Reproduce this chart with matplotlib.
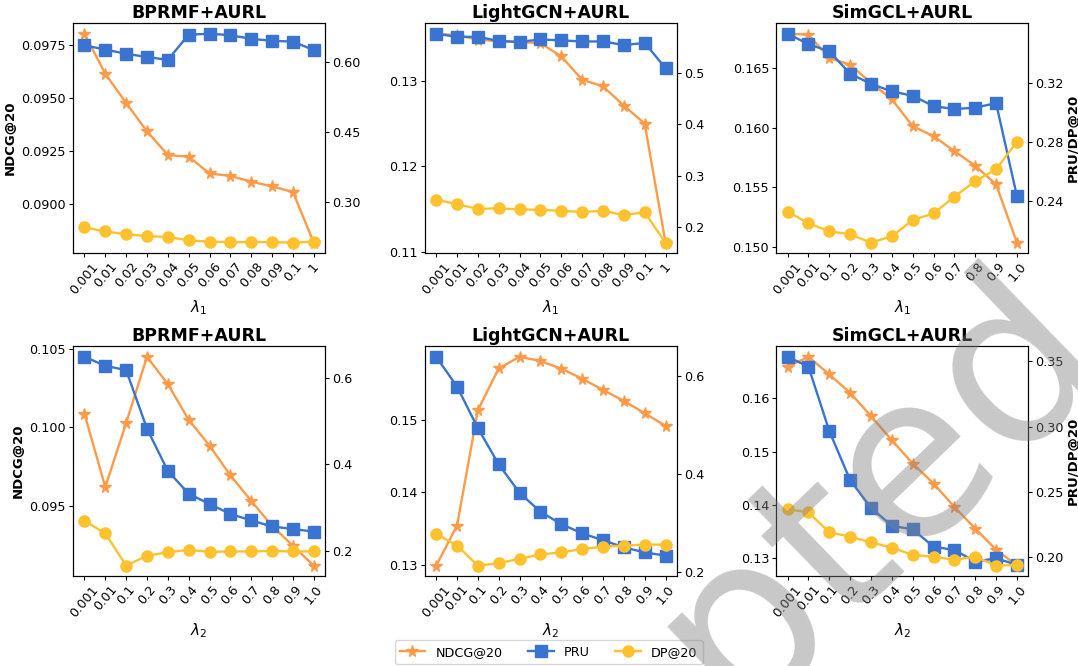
import numpy as np
import matplotlib
matplotlib.use('Agg')
import matplotlib.pyplot as plt
from matplotlib.ticker import FixedLocator, FormatStrFormatter

plt.rcParams['font.family'] = 'DejaVu Sans'

# x tick labels
lam1_labels = ['0.001', '0.01', '0.02', '0.03', '0.04', '0.05', '0.06', '0.07', '0.08', '0.09', '0.1', '1']
lam_sim_labels = ['0.001', '0.01', '0.1', '0.2', '0.3', '0.4', '0.5', '0.6', '0.7', '0.8', '0.9', '1.0']

# ---- lambda_1 sweeps ----
bprmf_l1_ndcg = [0.09805, 0.09616, 0.09478, 0.09344, 0.09232, 0.09224, 0.09145, 0.09133, 0.09106, 0.09084, 0.09057, 0.08818]
bprmf_l1_pru = [0.636, 0.627, 0.618, 0.611, 0.605, 0.659, 0.661, 0.658, 0.650, 0.646, 0.644, 0.626]
bprmf_l1_dp = [0.245, 0.236, 0.230, 0.226, 0.224, 0.217, 0.214, 0.213, 0.213, 0.213, 0.212, 0.214]

lgcn_l1_ndcg = [0.13547, 0.13531, 0.13477, 0.13461, 0.1345, 0.13438, 0.13283, 0.13012, 0.12934, 0.12709, 0.125, 0.11112]
lgcn_l1_pru = [0.577, 0.571, 0.571, 0.563, 0.561, 0.566, 0.564, 0.562, 0.562, 0.555, 0.559, 0.510]
lgcn_l1_dp = [0.253, 0.244, 0.235, 0.236, 0.234, 0.233, 0.231, 0.229, 0.231, 0.223, 0.228, 0.169]

sgcl_l1_ndcg = [0.16783, 0.16775, 0.16581, 0.16525, 0.16372, 0.16236, 0.16011, 0.15928, 0.15803, 0.15681, 0.15525, 0.15039]
sgcl_l1_pru = [0.353, 0.346, 0.341, 0.326, 0.319, 0.314, 0.311, 0.304, 0.302, 0.303, 0.306, 0.243]
sgcl_l1_dp = [0.2326, 0.2247, 0.2193, 0.2172, 0.2116, 0.2159, 0.2269, 0.2314, 0.2427, 0.2533, 0.2612, 0.2799]

# ---- lambda_2 sweeps ----
bprmf_l2_ndcg = [0.10086, 0.09621, 0.10027, 0.10448, 0.10274, 0.10048, 0.09884, 0.09695, 0.09533, 0.09375, 0.09248, 0.09122]
bprmf_l2_pru = [0.650, 0.629, 0.619, 0.483, 0.385, 0.332, 0.308, 0.285, 0.270, 0.256, 0.250, 0.244]
bprmf_l2_dp = [0.269, 0.240, 0.165, 0.188, 0.196, 0.2015, 0.197, 0.198, 0.198, 0.199, 0.198, 0.198]

lgcn_l2_ndcg = [0.12989, 0.13542, 0.1513, 0.15707, 0.15867, 0.15808, 0.15703, 0.15565, 0.1541, 0.15259, 0.15089, 0.14915]
lgcn_l2_pru = [0.639, 0.578, 0.493, 0.419, 0.361, 0.322, 0.297, 0.278, 0.264, 0.2495, 0.239, 0.2325]
lgcn_l2_dp = [0.277, 0.253, 0.212, 0.217, 0.226, 0.235, 0.239, 0.246, 0.251, 0.253, 0.255, 0.255]

sgcl_l2_ndcg = [0.16597, 0.16785, 0.16453, 0.16107, 0.15668, 0.15216, 0.14777, 0.1440, 0.1396, 0.13552, 0.13157, 0.12856]
sgcl_l2_pru = [0.3535, 0.3459, 0.2966, 0.259, 0.2379, 0.2241, 0.2214, 0.2081, 0.2056, 0.1967, 0.1992, 0.1942]
sgcl_l2_dp = [0.2369, 0.2343, 0.2191, 0.2158, 0.2114, 0.2074, 0.2018, 0.2005, 0.198, 0.2005, 0.1936, 0.1942]

c_ndcg = '#FF9A48'
c_pru = '#3A74D0'
c_dp = '#FFC22E'

fig = plt.figure(figsize=(10.78, 6.66), dpi=100)

lefts = [0.0677, 0.394, 0.720]
w, h = 0.234, 0.345
bottoms = [0.620, 0.135]
tick_fs = 9.2


def panel(pos, title, xlabels, xlab, ndcg, pru, dp, lticks, lfmt, rticks, rfmt,
          left_label=False, right_label=False):
    ax = fig.add_axes(pos)
    x = np.arange(len(xlabels))
    l1, = ax.plot(x, ndcg, color=c_ndcg, marker='*', ms=8.5, lw=1.7, label='NDCG@20')
    ax2 = ax.twinx()
    l2, = ax2.plot(x, pru, color=c_pru, marker='s', ms=8, lw=1.7, label='PRU')
    l3, = ax2.plot(x, dp, color=c_dp, marker='o', ms=8, lw=1.7, label='DP@20')
    ax.set_xticks(x)
    ax.set_xticklabels(xlabels, rotation=50, fontsize=tick_fs)
    ax.set_xlabel(xlab, fontsize=11, labelpad=1)
    ax.set_title(title, fontsize=12.5, fontweight='bold', pad=4)
    ax.yaxis.set_major_locator(FixedLocator(lticks))
    ax.yaxis.set_major_formatter(FormatStrFormatter(lfmt))
    ax2.yaxis.set_major_locator(FixedLocator(rticks))
    ax2.yaxis.set_major_formatter(FormatStrFormatter(rfmt))
    ax.tick_params(axis='both', labelsize=tick_fs, length=3, pad=2)
    ax2.tick_params(axis='y', labelsize=tick_fs, length=3, pad=2)
    if left_label:
        ax.set_ylabel('NDCG@20', fontsize=9.5, fontweight='bold', labelpad=3)
    if right_label:
        ax2.set_ylabel('PRU/DP@20', fontsize=9.5, fontweight='bold', labelpad=2)
    return [l1, l2, l3]


handles = panel([lefts[0], bottoms[0], w, h], 'BPRMF+AURL', lam1_labels, r'$\lambda_1$',
                bprmf_l1_ndcg, bprmf_l1_pru, bprmf_l1_dp,
                [0.0900, 0.0925, 0.0950, 0.0975], '%.4f', [0.30, 0.45, 0.60], '%.2f',
                left_label=True)
panel([lefts[1], bottoms[0], w, h], 'LightGCN+AURL', lam1_labels, r'$\lambda_1$',
      lgcn_l1_ndcg, lgcn_l1_pru, lgcn_l1_dp,
      [0.11, 0.12, 0.13], '%.2f', [0.2, 0.3, 0.4, 0.5], '%.1f')
panel([lefts[2], bottoms[0], w, h], 'SimGCL+AURL', lam_sim_labels, r'$\lambda_1$',
      sgcl_l1_ndcg, sgcl_l1_pru, sgcl_l1_dp,
      [0.150, 0.155, 0.160, 0.165], '%.3f', [0.24, 0.28, 0.32], '%.2f',
      right_label=True)

panel([lefts[0], bottoms[1], w, h], 'BPRMF+AURL', lam_sim_labels, r'$\lambda_2$',
      bprmf_l2_ndcg, bprmf_l2_pru, bprmf_l2_dp,
      [0.095, 0.100, 0.105], '%.3f', [0.2, 0.4, 0.6], '%.1f',
      left_label=True)
panel([lefts[1], bottoms[1], w, h], 'LightGCN+AURL', lam_sim_labels, r'$\lambda_2$',
      lgcn_l2_ndcg, lgcn_l2_pru, lgcn_l2_dp,
      [0.13, 0.14, 0.15], '%.2f', [0.2, 0.4, 0.6], '%.1f')
panel([lefts[2], bottoms[1], w, h], 'SimGCL+AURL', lam_sim_labels, r'$\lambda_2$',
      sgcl_l2_ndcg, sgcl_l2_pru, sgcl_l2_dp,
      [0.13, 0.14, 0.15, 0.16], '%.2f', [0.20, 0.25, 0.30, 0.35], '%.2f',
      right_label=True)

fig.legend(handles=handles, loc='upper center', bbox_to_anchor=(0.509, 0.048),
           ncol=3, fontsize=9.2, frameon=True, fancybox=True)

# watermark
fig.text(0.637, -0.040, 'Accepted', fontsize=165, rotation=44, rotation_mode='anchor',
         ha='center', va='center', color='#808080', alpha=0.43, zorder=10)

fig.savefig('out.png', dpi=100)
